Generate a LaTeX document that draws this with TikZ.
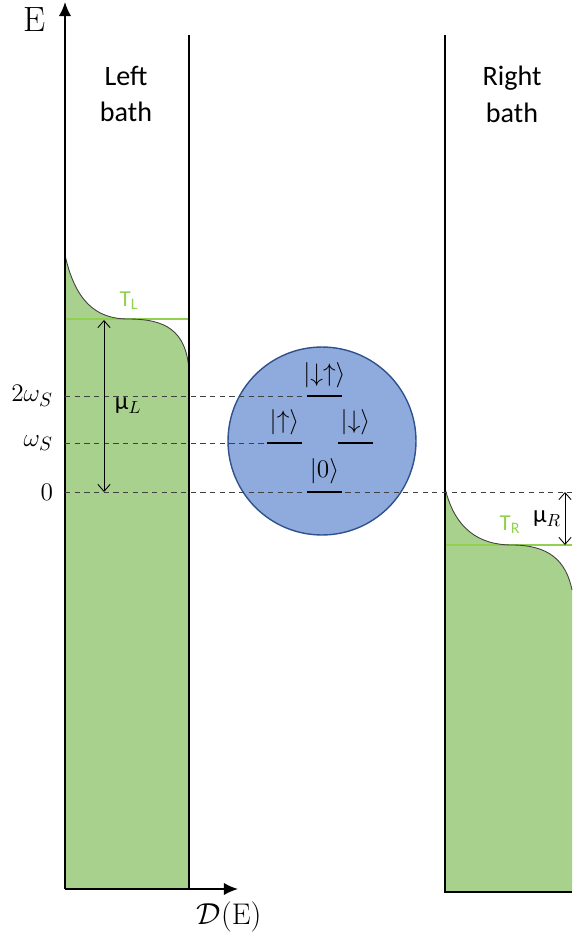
\documentclass[tikz,border=0pt]{standalone}
\usepackage{fontspec}
\newfontfamily\calibri{Carlito}
\usetikzlibrary{arrows.meta, positioning}
\definecolor{bathgreen}{RGB}{169,209,142}
\definecolor{templine}{RGB}{146,208,80}
\definecolor{dotblue}{RGB}{143,170,220}
\definecolor{dotedge}{RGB}{47,82,143}

\begin{document}
\begin{tikzpicture}[x=0.02cm, y=-0.02cm,
    axisarrow/.style={-{Latex[length=8pt, width=7pt]}, line width=1pt},
    wall/.style={line width=1pt},
    muarrow/.style={{Straight Barb[length=4pt, width=7pt]}-{Straight Barb[length=4pt, width=7pt]}, line width=0.5pt},
    fermi/.style={line width=0.5pt, black!75},
    tline/.style={templine, line width=0.8pt},
    guide/.style={dashed, dash pattern=on 3pt off 2.5pt, line width=0.5pt, black!75},
    levelbar/.style={line width=1.7pt},
    ket/.style={font=\fontsize{13.5}{15}\selectfont, inner sep=1pt},
    bathlabel/.style={font=\calibri\fontsize{16}{21}\selectfont, align=center},
    templabel/.style={font=\calibri\fontsize{13}{15}\selectfont, text=templine},
    elabel/.style={font=\fontsize{15}{17}\selectfont, anchor=east, inner sep=1pt},
    mulabel/.style={font=\fontsize{14}{16}\selectfont, inner sep=1pt},
]
\useasboundingbox (0,0) rectangle (572,945);

% ===================== BATH FILLINGS =====================
\fill[bathgreen] (65,255) .. controls (75,300) and (95,319) .. (128,319)
    .. controls (165,319) and (186,330) .. (189,370) -- (189,889) -- (65,889) -- cycle;
\fill[bathgreen] (445,488) .. controls (455,530) and (480,545) .. (512,545)
    .. controls (548,545) and (566,560) .. (572,590) -- (572,892) -- (445,892) -- cycle;

% temperature lines and Fermi edges
\draw[tline] (65,319) -- (189,319);
\draw[tline] (445,545) -- (572,545);
\draw[fermi] (65,255) .. controls (75,300) and (95,319) .. (128,319)
    .. controls (165,319) and (186,330) .. (189,370);
\draw[fermi] (445,488) .. controls (455,530) and (480,545) .. (512,545)
    .. controls (548,545) and (566,560) .. (572,590);

\node[templabel] (tl) at (129,301) {T\textsubscript{L}};
\node[templabel] (tr) at (510,525) {T\textsubscript{R}};

% ===================== AXES AND WALLS =====================
\coordinate (origin) at (65,889);
\coordinate (etop) at (65,2);
\coordinate (dend) at (238,889);
\draw[axisarrow] (origin) -- (etop);
\draw[axisarrow] (origin) -- (dend);
\draw[wall] (189,35) -- (189,889);
\draw[wall] (445,35) -- (445,892) -- (572,892);

\node[font=\fontsize{20}{22}\selectfont] (elab) at (35,20) {E};
\node[font=\fontsize{17}{20}\selectfont] (dlab) at (229,917) {$\mathcal{D}(\mathrm{E})$};

\node[bathlabel] (leftbath) at (126,94) {Left\\bath};
\node[bathlabel] (rightbath) at (512,94) {Right\\bath};

% ===================== DOT =====================
\node[circle, draw=dotedge, fill=dotblue, line width=0.8pt,
      minimum size=3.76cm] (dot) at (322,441) {};

% levels
\coordinate (lvud) at (307,396);
\coordinate (lvu) at (267,443);
\coordinate (lvd) at (338,443);
\coordinate (lvz) at (307,492);

% energy marks on the axis
\coordinate (ax2w) at (65,396);
\coordinate (axw) at (65,443);
\coordinate (axz) at (65,492);
\coordinate (farz) at (572,492);

\draw[guide] (ax2w) -- (lvud);
\draw[guide] (axw) -- (lvu);
\draw[guide] (axz) -- (farz);

\draw[levelbar] (lvud) -- ++(35,0) node[ket, midway, above=3pt] (kud) {$|{\downarrow}{\uparrow}\rangle$};
\draw[levelbar] (lvu) -- ++(35,0) node[ket, midway, above=3pt] (ku) {$|{\uparrow}\rangle$};
\draw[levelbar] (lvd) -- ++(35,0) node[ket, midway, above=3pt] (kd) {$|{\downarrow}\rangle$};
\draw[levelbar] (lvz) -- ++(35,0) node[ket, midway, above=3pt] (kz) {$|0\rangle$};

\node[elabel] (l2w) at (55,396) {$2\omega_S$};
\node[elabel] (lw) at (55,443) {$\omega_S$};
\node[elabel] (lz) at (55,492) {$0$};

% ===================== CHEMICAL POTENTIALS =====================
\coordinate (mult) at (104,320);
\coordinate (mulb) at (104,492);
\draw[muarrow] (mult) -- (mulb) node[mulabel, midway, right=5pt] (mul) {{\calibri μ}$_L$};
\coordinate (murt) at (565,492);
\coordinate (murb) at (565,545);
\draw[muarrow] (murt) -- (murb) node[mulabel, midway, left=1pt] (mur) {{\calibri μ}$_R$};

\end{tikzpicture}
\end{document}
